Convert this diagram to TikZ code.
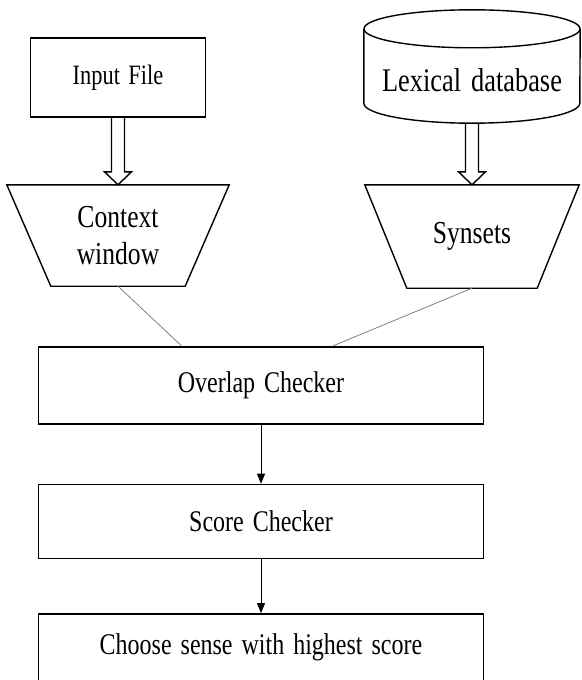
\documentclass[tikz,border=0pt]{standalone}
\usepackage{fontspec}
\setmainfont{Liberation Serif}[FakeStretch=0.8, WordSpace=1.5]
\usetikzlibrary{arrows.meta,positioning,shapes.geometric,calc}

\newcommand{\hollowarrow}[2]{%
  \draw[line width=1.4pt, line join=miter]
    ($(#1)+(-6.5,0)$) -- ($(#2)+(-6.5,-13)$) -- ($(#2)+(-13.5,-13)$) -- (#2)
    -- ($(#2)+(13.5,-13)$) -- ($(#2)+(6.5,-13)$) -- ($(#1)+(6.5,0)$);}

\begin{document}
\begin{tikzpicture}[x=1pt, y=-1pt,
    box/.style={rectangle, draw, line width=1.4pt, minimum width=445pt,
                align=center, font=\fontsize{30}{36}\selectfont},
    trap/.style={rectangle, minimum height=101pt, align=center, inner sep=0pt,
                 font=\fontsize{32}{37}\selectfont},
    outline/.style={line width=1.4pt, line join=miter},
    link/.style={draw=gray, line width=0.8pt},
    flow/.style={line width=0.8pt, -{Triangle[width=8pt,length=10pt]}},
]
\useasboundingbox (0,0) rectangle (581,680);

% Sources
\node[box, minimum width=175pt, minimum height=79pt,
      font=\fontsize{28}{34}\selectfont] (infile) at (118,77.5) {Input File};
\node[minimum width=216pt, minimum height=86pt,
      font=\fontsize{33}{38}\selectfont] (lexdb) at (472,80) {Lexical database};
\draw[outline] ([yshift=8pt]lexdb.north) ellipse [x radius=108pt, y radius=19pt];
\draw[outline] ([yshift=8pt]lexdb.north west) -- ([yshift=20pt]lexdb.south west)
    arc[start angle=180, end angle=360, x radius=108pt, y radius=20pt]
    -- ([yshift=8pt]lexdb.north east);

% Filters
\node[trap, minimum width=222pt] (ctx) at (118,235.5) {Context\\window};
\node[trap, minimum width=214pt, minimum height=103pt] (syn) at (472,236.5) {Synsets};
\draw[outline] (ctx.north west) -- (ctx.north east) -- ([xshift=-44pt]ctx.south east)
    -- ([xshift=44pt]ctx.south west) -- cycle;
\draw[outline] (syn.north west) -- (syn.north east) -- ([xshift=-42pt]syn.south east)
    -- ([xshift=42pt]syn.south west) -- cycle;

% Checkers
\node[box, minimum height=77pt] (overlap) at (261,385.5) {Overlap Checker};
\node[box, minimum height=74pt, below=59pt of overlap] (score) {Score Checker};
\node[box, minimum height=67pt, below=54pt of score] (choose) {Choose sense with highest score};

\hollowarrow{infile.south}{ctx.north}
\hollowarrow{lexdb.south}{syn.north}

\draw[link] (ctx.south) -- ([xshift=-79pt]overlap.north);
\draw[link] (syn.south) -- ([xshift=71pt]overlap.north);

\foreach \a/\b in {overlap/score, score/choose}
    \draw[flow] (\a) -- (\b);
\end{tikzpicture}
\end{document}
